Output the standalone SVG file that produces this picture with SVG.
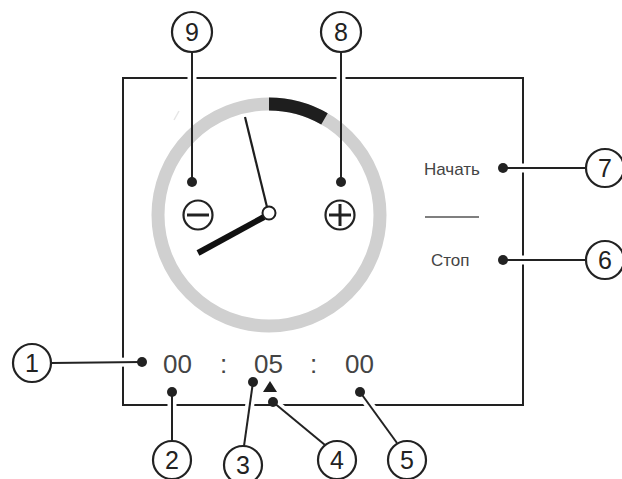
<svg xmlns="http://www.w3.org/2000/svg" width="622" height="479" viewBox="0 0 622 479">
<style>
.frame{fill:none;stroke:#222;stroke-width:2}
.halo{fill:none;stroke:#fff;stroke-width:9}
.lead{fill:none;stroke:#222;stroke-width:2}
.dot{fill:#222}
.callout circle{fill:#fff;stroke:#222;stroke-width:2.2}
.callout text{font-family:"Liberation Sans",Arial,sans-serif;font-size:25px;fill:#222;text-anchor:middle}
.time{font-family:"Liberation Sans",Arial,sans-serif;font-size:26px;fill:#444}
.lbl{font-family:"Liberation Sans",Arial,sans-serif;font-size:17px;fill:#444}
</style>
<rect width="622" height="479" fill="#fff"/>
<rect class="frame" x="123" y="78" width="400" height="327"/>
<g id="halos">
<line class="halo" x1="192" y1="52" x2="192" y2="100"/>
<line class="halo" x1="341" y1="52" x2="341" y2="100"/>
<line class="halo" x1="51" y1="363" x2="137" y2="362"/>
<line class="halo" x1="172" y1="392" x2="172" y2="441"/>
<line class="halo" x1="253" y1="382" x2="244" y2="446"/>
<line class="halo" x1="273" y1="402" x2="325" y2="445"/>
<line class="halo" x1="360" y1="392" x2="397" y2="443"/>
<line class="halo" x1="503" y1="168" x2="586" y2="168"/>
<line class="halo" x1="503" y1="260" x2="586" y2="260"/>
</g>
<g id="clock">
<circle cx="269" cy="215" r="111" fill="none" stroke="#d0d0d0" stroke-width="13"/>
<path d="M269 104 A111 111 0 0 1 324.5 118.9" fill="none" stroke="#1e1e1e" stroke-width="13"/>
<line x1="174" y1="120" x2="179" y2="111" stroke="#e6e6e6" stroke-width="1.5"/>
<line x1="245" y1="117" x2="267" y2="207" stroke="#1e1e1e" stroke-width="2.2"/>
<line x1="198" y1="253" x2="264" y2="217" stroke="#111" stroke-width="6"/>
<circle cx="269" cy="213" r="6.5" fill="#fff" stroke="#1e1e1e" stroke-width="2"/>
</g>
<g id="minus">
<circle cx="198" cy="215" r="14.5" fill="#fff" stroke="#222" stroke-width="2.2"/>
<line x1="187" y1="215" x2="209" y2="215" stroke="#222" stroke-width="3"/>
</g>
<g id="plus">
<circle cx="340" cy="215" r="14.5" fill="#fff" stroke="#222" stroke-width="2.2"/>
<line x1="329" y1="215" x2="351" y2="215" stroke="#222" stroke-width="3"/>
<line x1="340" y1="204" x2="340" y2="226" stroke="#222" stroke-width="3"/>
</g>
<g id="display">
<text class="time" x="163" y="373">00</text>
<text class="time" x="220" y="373">:</text>
<text class="time" x="254" y="373">05</text>
<text class="time" x="310" y="373">:</text>
<text class="time" x="345" y="373">00</text>
<polygon points="270,381 263,392 277,392" fill="#1e1e1e"/>
</g>
<g id="buttons">
<text class="lbl" x="424" y="175">Начать</text>
<line x1="425" y1="217" x2="479" y2="217" stroke="#555" stroke-width="1.3"/>
<text class="lbl" x="431" y="266">Стоп</text>
</g>
<g id="connectors">
<line class="lead" x1="192" y1="52" x2="192" y2="182"/>
<line class="lead" x1="341" y1="52" x2="341" y2="182"/>
<line class="lead" x1="51" y1="363" x2="142" y2="362"/>
<line class="lead" x1="172" y1="392" x2="172" y2="441"/>
<line class="lead" x1="253" y1="382" x2="244" y2="446"/>
<line class="lead" x1="273" y1="402" x2="325" y2="445"/>
<line class="lead" x1="360" y1="392" x2="397" y2="443"/>
<line class="lead" x1="503" y1="168" x2="586" y2="168"/>
<line class="lead" x1="503" y1="260" x2="586" y2="260"/>
<circle class="dot" cx="192" cy="182" r="5"/>
<circle class="dot" cx="341" cy="182" r="5"/>
<circle class="dot" cx="142" cy="362" r="5"/>
<circle class="dot" cx="172" cy="392" r="5"/>
<circle class="dot" cx="253" cy="382" r="5"/>
<circle class="dot" cx="273" cy="402" r="5"/>
<circle class="dot" cx="360" cy="392" r="5"/>
<circle class="dot" cx="503" cy="168" r="5"/>
<circle class="dot" cx="503" cy="260" r="5"/>
</g>
<g id="c1" class="callout"><circle cx="32" cy="363" r="19"/><text x="32" y="372">1</text></g>
<g id="c2" class="callout"><circle cx="172" cy="460" r="19"/><text x="172" y="469">2</text></g>
<g id="c3" class="callout"><circle cx="243" cy="465" r="19"/><text x="243" y="474">3</text></g>
<g id="c4" class="callout"><circle cx="337" cy="460" r="19"/><text x="337" y="469">4</text></g>
<g id="c5" class="callout"><circle cx="407" cy="460" r="19"/><text x="407" y="469">5</text></g>
<g id="c6" class="callout"><circle cx="605" cy="260" r="19"/><text x="605" y="269">6</text></g>
<g id="c7" class="callout"><circle cx="605" cy="168" r="19"/><text x="605" y="177">7</text></g>
<g id="c8" class="callout"><circle cx="341" cy="32" r="20"/><text x="341" y="41">8</text></g>
<g id="c9" class="callout"><circle cx="192" cy="32" r="20"/><text x="192" y="41">9</text></g>
</svg>
